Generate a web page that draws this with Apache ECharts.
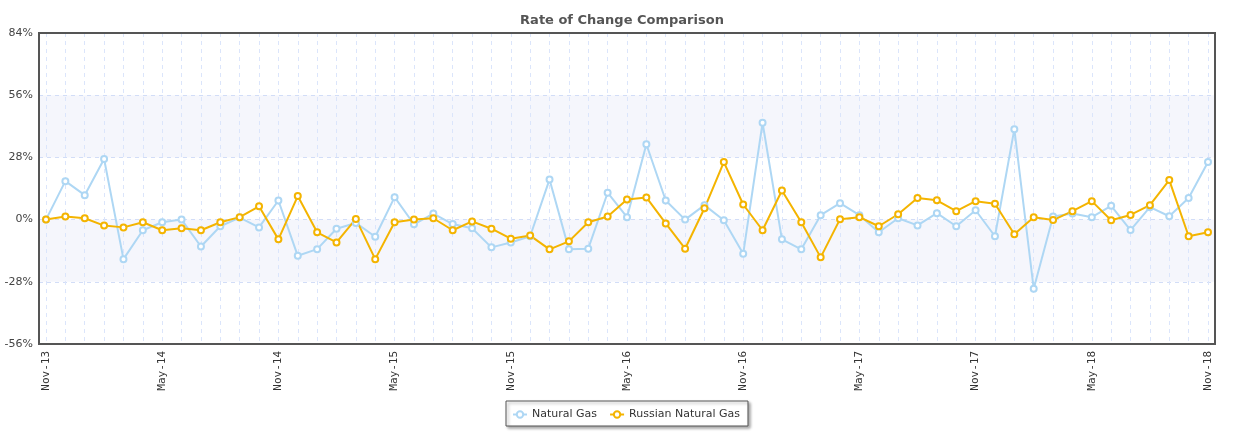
<!DOCTYPE html>
<html><head><meta charset="utf-8">
<script src="https://cdn.jsdelivr.net/npm/echarts@6/dist/echarts.min.js"></script>
<style>html,body{margin:0;padding:0;background:#fff}#c{width:1244px;height:433px}</style>
</head><body><div id="c"></div>
<script>
const months = ["Nov-13","Dec-13","Jan-14","Feb-14","Mar-14","Apr-14","May-14","Jun-14","Jul-14","Aug-14","Sep-14","Oct-14",
"Nov-14","Dec-14","Jan-15","Feb-15","Mar-15","Apr-15","May-15","Jun-15","Jul-15","Aug-15","Sep-15","Oct-15",
"Nov-15","Dec-15","Jan-16","Feb-16","Mar-16","Apr-16","May-16","Jun-16","Jul-16","Aug-16","Sep-16","Oct-16",
"Nov-16","Dec-16","Jan-17","Feb-17","Mar-17","Apr-17","May-17","Jun-17","Jul-17","Aug-17","Sep-17","Oct-17",
"Nov-17","Dec-17","Jan-18","Feb-18","Mar-18","Apr-18","May-18","Jun-18","Jul-18","Aug-18","Sep-18","Oct-18","Nov-18"];
const naturalGas = [0,17.3,11.0,27.3,-17.8,-4.8,-1.2,0,-12.1,-3.0,0.9,-3.5,8.6,-16.3,-13.3,-4.1,-1.5,-7.7,10.1,-2.1,
2.7,-2.0,-3.9,-12.5,-10.3,-7.5,18.1,-13.4,-13.1,12.1,1.1,33.9,8.6,0,6.5,-0.3,-15.4,43.6,-8.9,-13.4,
2.0,7.4,2.0,-5.7,0.6,-2.6,2.9,-3.0,4.2,-7.5,40.7,-31.1,1.4,2.7,1.1,6.2,-4.7,5.6,1.5,9.7,25.9];
const russianGas = [0,1.4,0.6,-2.7,-3.5,-1.2,-4.8,-3.9,-4.8,-1.2,1.1,6.0,-8.9,10.6,-5.7,-10.3,0.3,-17.8,-1.2,0,
0.6,-4.8,-0.8,-4.1,-8.6,-7.2,-13.4,-9.8,-1.2,1.4,9.0,10.0,-1.7,-13.1,5.1,25.9,6.8,-4.8,13.1,-1.2,
-17.0,0.2,1.1,-3.0,2.4,9.7,8.7,3.8,8.3,7.1,-6.6,1.1,-0.2,3.8,8.3,-0.3,2.1,6.5,17.8,-7.5,-5.7];
const yTicks = {min:-56, max:84, interval:28};

const chart = echarts.init(document.getElementById('c'));
chart.setOption({
  animation:false,
  title:{text:'Rate of Change Comparison',left:'center',top:9,
    textStyle:{fontFamily:'DejaVu Sans',fontSize:13,fontWeight:'bold',color:'#555'}},
  grid:[
    {left:39,right:29,top:33,bottom:89,show:false},
    {left:46,right:36,top:33,bottom:89},
    {left:39,right:29,top:33,bottom:89,show:true,z:10,borderColor:'#555',borderWidth:2,backgroundColor:'rgba(0,0,0,0)'}
  ],
  xAxis:[
    {gridIndex:0,type:'value',min:0,max:1,show:false},
    {gridIndex:1,type:'category',boundaryGap:false,data:months,
      axisLine:{show:false},axisTick:{show:false},
      axisLabel:{interval:5,rotate:90,margin:7,fontFamily:'DejaVu Sans Mono',fontSize:11,color:'#333'},
      splitLine:{show:true,interval:0,lineStyle:{type:[4,4],color:'#dbe5fb',width:1}}},
    {gridIndex:2,type:'value',min:0,max:1,show:false}
  ],
  yAxis:[
    {gridIndex:0,type:'value',min:yTicks.min,max:yTicks.max,interval:yTicks.interval,
      axisLine:{show:false},axisTick:{show:false},
      axisLabel:{formatter:'{value}%',fontFamily:'DejaVu Sans',fontSize:11,color:'#444',margin:6},
      splitLine:{lineStyle:{type:[4,4],color:'#d2ddf7'}},
      splitArea:{show:true,areaStyle:{color:['rgba(255,255,255,0)','#f5f6fc']}}},
    {gridIndex:1,type:'value',min:yTicks.min,max:yTicks.max,interval:yTicks.interval,show:false,splitLine:{show:false}},
    {gridIndex:2,type:'value',min:0,max:1,show:false}
  ],
  legend:{bottom:7,left:506,data:['Natural Gas','Russian Natural Gas'],
    borderColor:'#555',borderWidth:1,padding:[8,8,6,6],itemGap:12,itemWidth:14,itemHeight:8,
    backgroundColor:'#fff',shadowColor:'rgba(0,0,0,0.35)',shadowBlur:3,shadowOffsetX:2,shadowOffsetY:2,
    textStyle:{fontFamily:'DejaVu Sans',fontSize:11,color:'#333'}},
  series:[
    {name:'Natural Gas',type:'line',xAxisIndex:1,yAxisIndex:1,data:naturalGas,
      symbol:'emptyCircle',symbolSize:6,lineStyle:{color:'#aed7f4',width:2},
      itemStyle:{color:'#aed7f4',borderWidth:1.5}},
    {name:'Russian Natural Gas',type:'line',xAxisIndex:1,yAxisIndex:1,data:russianGas,
      symbol:'emptyCircle',symbolSize:6,lineStyle:{color:'#f4b400',width:2},
      itemStyle:{color:'#f4b400',borderWidth:1.5}}
  ]
});
</script></body></html>
